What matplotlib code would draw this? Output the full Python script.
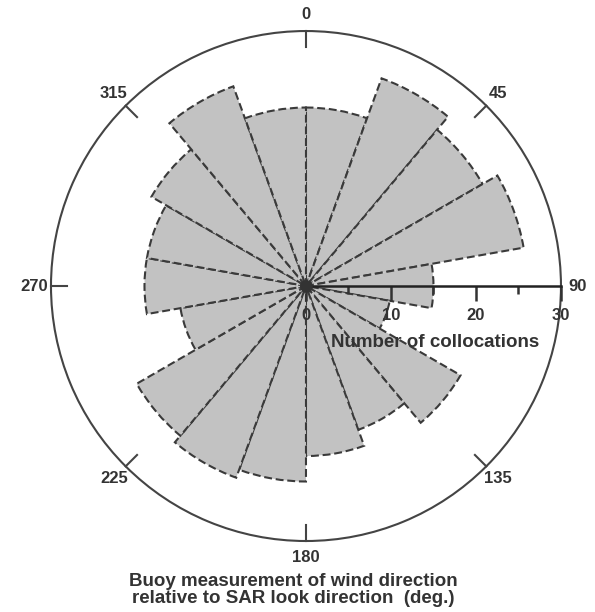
import numpy as np
import matplotlib
matplotlib.use("Agg")
import matplotlib.pyplot as plt

plt.rcParams['font.family'] = ['Liberation Sans', 'DejaVu Sans']

# Data: 20-degree direction bins (start angle, degrees) and counts
bin_starts = [0, 20, 40, 60, 80, 100, 120, 140, 160, 180,
              200, 220, 240, 260, 280, 300, 320, 340]
counts = [21, 26, 24, 26, 15, 10, 21, 18, 20, 23,
          24, 23, 15, 19, 19, 21, 25, 21]
angle_ticks = [0, 45, 90, 135, 180, 225, 270, 315]
angle_labels = ['0', '45', '90', '135', '180', '225', '270', '315']
radial_ticks = [0, 10, 20, 30]
radial_minor = [5, 15, 25]

bin_width = 20
rmax = 30
text_color = '#333333'
edge_color = '#3a3a3a'

fig = plt.figure(figsize=(5.95, 6.12), dpi=100)
pos = [0.0857, 0.1160, 0.8571, 0.8333]

ax = fig.add_axes(pos, projection='polar')
ax.set_theta_zero_location('N')
ax.set_theta_direction(-1)
theta = np.deg2rad(np.array(bin_starts) + bin_width / 2)
ax.bar(theta, counts, width=np.deg2rad(bin_width), bottom=0,
       color='#c2c2c2', edgecolor=edge_color, linewidth=1.5,
       linestyle=(0, (3.8, 1.8)), zorder=2)
ax.set_ylim(0, rmax)
ax.grid(False)
ax.set_xticks([])
ax.set_yticks([])
ax.spines['polar'].set_color('#444444')
ax.spines['polar'].set_linewidth(1.5)

# inward angular ticks and labels
for a, lab in zip(angle_ticks, angle_labels):
    t = np.deg2rad(a)
    if a != 90:
        ax.plot([t, t], [rmax * 0.937, rmax], color='#444444', lw=1.5,
                clip_on=False, zorder=3)
    ax.text(t, rmax * 1.065, lab, ha='center', va='center', fontsize=12,
            fontweight='bold', color=text_color, clip_on=False)

# overlay cartesian axes for the radial scale
ax2 = fig.add_axes(pos, facecolor='none')
ax2.set_xlim(-rmax, rmax)
ax2.set_ylim(-rmax, rmax)
for s in ['top', 'left', 'right']:
    ax2.spines[s].set_visible(False)
ax2.spines['bottom'].set_position(('data', 0))
ax2.spines['bottom'].set_bounds(0, rmax)
ax2.spines['bottom'].set_linewidth(1.8)
ax2.spines['bottom'].set_color('#222222')
ax2.yaxis.set_visible(False)
ax2.set_xticks(radial_ticks)
ax2.set_xticks(radial_minor, minor=True)
ax2.set_xticklabels([str(v) for v in radial_ticks], fontsize=12,
                    fontweight='bold', color=text_color)
ax2.tick_params(axis='x', which='major', direction='out', length=11,
                width=1.8, color='#333333', pad=5)
ax2.tick_params(axis='x', which='minor', direction='out', length=6,
                width=1.8, color='#333333')
ax2.text(15.2, -6.6, 'Number of collocations', ha='center', va='center',
         fontsize=13.5, fontweight='bold', color=text_color)
ax2.plot([0], [0], 'o', color='#333333', ms=8, zorder=5)

fig.text(0.493, 1 - 590 / 612,
         'Buoy measurement of wind direction\nrelative to SAR look direction  (deg.)',
         ha='center', va='center', fontsize=13.5, fontweight='bold',
         color=text_color, linespacing=1.05)

fig.savefig('out.png', dpi=100)
